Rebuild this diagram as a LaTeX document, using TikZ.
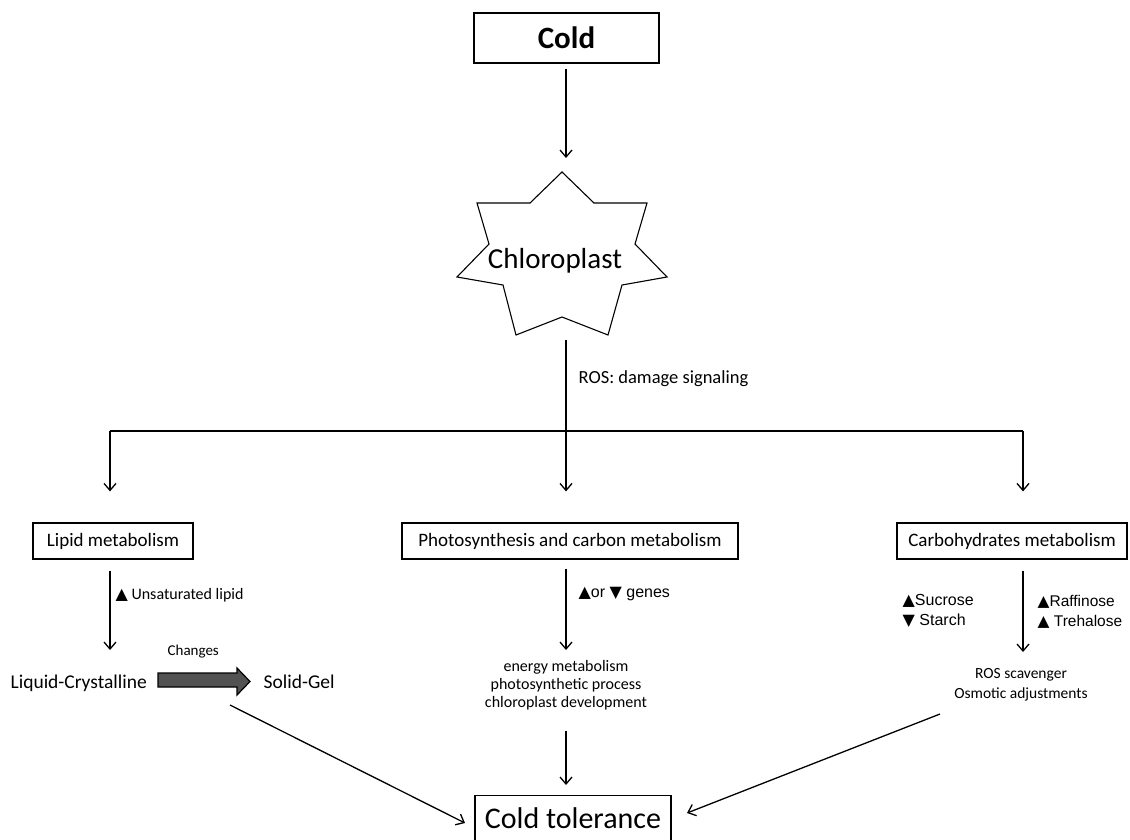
\documentclass[tikz,border=0pt]{standalone}
\usepackage{fontspec}
\setmainfont{Carlito}
\newfontfamily\arialf{Liberation Sans}
\newfontfamily\dvs{DejaVu Sans}
\usetikzlibrary{arrows.meta}
\newcommand\tup{{\dvs ▲}}
\newcommand\tdn{{\dvs ▼}}
\begin{document}
\begin{tikzpicture}[x=1pt,y=-1pt,line width=1.3pt,
  arr/.style={-{Straight Barb[length=7pt,width=12pt]}},
  box/.style={draw,line width=1.2pt,inner sep=0pt,minimum height=36,font=\fontsize{19}{22}\selectfont},
  txt/.style={inner sep=0pt,font=\fontsize{16}{18}\selectfont},
  ar/.style={inner sep=0pt,font=\arialf\fontsize{16}{19.5}\selectfont},
  big/.style={inner sep=0pt,font=\fontsize{19.5}{22}\selectfont}]
\clip (0,0) rectangle (1130,839);
\useasboundingbox (0,0) rectangle (1130,839);
% Cold
\node[draw,line width=1.2pt,minimum width=185,minimum height=50,inner sep=0pt,font=\fontsize{31}{36}\selectfont\bfseries] (cold) at (566.5,38) {Cold};
% star
\coordinate (stop) at (562,172);
\draw[line width=1.1pt] (stop) -- (594,203) -- (647,203) -- (635,244) -- (667,277) -- (622,285) -- (608,335) -- (562,317) -- (516,335) -- (503,285) -- (457,277) -- (489,244) -- (477,203) -- (530,203) -- cycle;
\node[inner sep=0pt,font=\fontsize{29}{33}\selectfont] (chl) at (555,261) {Chloroplast};
\coordinate (sbot) at (566,340);
\draw[arr] (cold.south -| stop) ++(4,5) coordinate (c1) -- (566,158) coordinate (c2);
% ROS
\node[inner sep=0pt,anchor=base west,font=\fontsize{18.5}{22}\selectfont] (ros) at (578,383) {ROS: damage signaling};
% boxes
\node[box,minimum width=160] (lipid) at (113,541) {Lipid metabolism};
\node[box,minimum width=336] (photo) at (570,541) {Photosynthesis and carbon metabolism};
\node[box,minimum width=230] (carb) at (1012,541) {Carbohydrates metabolism};
% branching
\coordinate (bl) at (110,431);
\coordinate (br) at (1023,431);
\draw (bl) -- (br);
\draw[arr] (sbot) -- (sbot |- photo.north) [shorten >=31pt];
\draw[arr,shorten >=31pt] (bl) -- (bl |- lipid.north);
\draw[arr,shorten >=31pt] (br) -- (br |- carb.north);
% lipid branch
\node[big,anchor=base west] (liq) at (10,688) {Liquid-Crystalline};
\node[big,anchor=base west] (solid) at (263,688) {Solid-Gel};
\node[inner sep=0pt,anchor=base west,font=\fontsize{15}{16}\selectfont] (chg) at (167,655) {Changes};
\node[inner sep=0pt,anchor=base west,font=\fontsize{16}{18}\selectfont] (unsat) at (115,599) {\tup\ Unsaturated lipid};
\draw[arr,shorten <=11pt] (lipid.south -| bl) -- (110,650) coordinate (l2);
\draw[line width=1.2pt,fill=black!68] (158,673) -- (237,673) -- (237,668) -- (250,681.5) -- (237,695) -- (237,687) -- (158,687) -- cycle;
% photo branch
\node[ar,anchor=base west] (genes) at (578,597) {\tup or \tdn\ genes};
\draw[arr,shorten <=9pt] (photo.south -| sbot) -- (566,650);
\node[txt,align=center] (energy) at (566,685) {energy metabolism\\photosynthetic process\\chloroplast development};
% carb branch
\node[ar,anchor=west,align=left] (suc) at (902,611) {\tup Sucrose\\\tdn\ Starch};
\node[ar,anchor=west,align=left,font=\arialf\fontsize{15.5}{19.5}\selectfont] (raf) at (1037,612) {\tup Raffinose\\\tup\ Trehalose};
\draw[arr,shorten <=11pt] (carb.south -| br) -- (1023,652);
\node[txt,align=center,font=\fontsize{15.5}{18}\selectfont] (scav) at (1021,685) {ROS scavenger\\[2pt]Osmotic adjustments};
% cold tolerance
\node[draw,line width=1.2pt,anchor=north,minimum width=196,inner sep=0pt,text height=33pt,text depth=25pt,font=\fontsize{30}{36}\selectfont] (tol) at (573,795) {Cold tolerance};
\coordinate (d1) at (230,705);
\coordinate (d2) at (940,714);
\draw[arr] (energy.south -| sbot) ++(0,20) -- (566,785);
\draw[arr] (d1) -- (465,823);
\draw[arr] (d2) -- (687,813);
\end{tikzpicture}
\end{document}
